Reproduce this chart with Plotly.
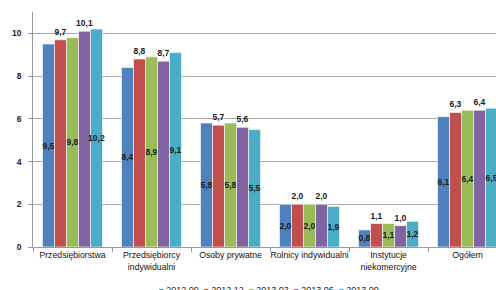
import plotly.graph_objects as go

categories = ["Przedsiębiorstwa", "Przedsiębiorcy<br>indywidualni", "Osoby prywatne",
              "Rolnicy indywidualni", "Instytucje<br>niekomercyjne", "Ogółem"]
series_names = ["2012.09", "2012.12", "2013.03", "2013.06", "2013.09"]
s_2012_09 = [9.5, 8.4, 5.8, 2.0, 0.8, 6.1]
s_2012_12 = [9.7, 8.8, 5.7, 2.0, 1.1, 6.3]
s_2013_03 = [9.8, 8.9, 5.8, 2.0, 1.1, 6.4]
s_2013_06 = [10.1, 8.7, 5.6, 2.0, 1.0, 6.4]
s_2013_09 = [10.2, 9.1, 5.5, 1.9, 1.2, 6.5]
all_series = [s_2012_09, s_2012_12, s_2013_03, s_2013_06, s_2013_09]
colors = ["#4F81BD", "#C0504D", "#9BBB59", "#8064A2", "#4BACC6"]
positions = ["inside", "outside", "inside", "outside", "inside"]

FONT = "Liberation Sans Narrow, Arial Narrow, Liberation Sans, Arial, sans-serif"

fig = go.Figure()
for name, vals, col, pos in zip(series_names, all_series, colors, positions):
    fig.add_trace(go.Bar(
        x=categories, y=vals, name=name,
        marker=dict(color=col, line=dict(color="white", width=0.6)),
        texttemplate="<b>%{y:.1f}</b>",
        textposition=pos,
        insidetextanchor="middle",
        textangle=0,
        constraintext="none",
        textfont=dict(family=FONT, size=8.5, color="#1a1a1a"),
        cliponaxis=False if pos == "outside" else True,
        showlegend=False,
    ))

# custom legend (small square markers), mostly cut at the bottom edge as in the reference
legend_x0 = 157
legend_step = 45
for i, (name, col) in enumerate(zip(series_names, colors)):
    fig.add_annotation(
        xref="paper", yref="paper",
        x=(legend_x0 + i * legend_step - 33) / 463.0, y=-0.185,
        xanchor="left", yanchor="middle", showarrow=False,
        text=f"<span style='color:{col}; font-size:8px'>■</span> {name}",
        font=dict(family=FONT, size=9, color="#222"),
    )

fig.update_layout(
    width=496, height=290,
    margin=dict(l=33, r=0, t=12, b=43, autoexpand=False),
    paper_bgcolor="white", plot_bgcolor="white",
    separators=",.",
    barmode="group", bargap=0.24, bargroupgap=0.0,
    showlegend=False,
    font=dict(family=FONT, color="#222"),
    xaxis=dict(range=[-0.5, 5.36], showline=True, linecolor="#9a9a9a", linewidth=1,
               ticks="outside", tickson="boundaries", ticklen=4, tickcolor="#9a9a9a",
               tickangle=0, automargin=False,
               tickfont=dict(family=FONT, size=8.7, color="#111"),
               showgrid=False),
    yaxis=dict(range=[0, 11], dtick=2, tick0=0, showline=True, linecolor="#9a9a9a",
               linewidth=1, ticks="outside", ticklen=4, tickcolor="#9a9a9a",
               gridcolor="#a6a6a6", gridwidth=1, zeroline=False, automargin=False,
               tickfont=dict(family=FONT, size=8.5, color="#1a1a1a"),
               tickprefix="<b>", ticksuffix="</b>  "),
)
fig.write_html(
    "out.html",
    config={"displayModeBar": False},
    post_script="document.body.style.margin='0';document.body.style.overflow='hidden';",
)
